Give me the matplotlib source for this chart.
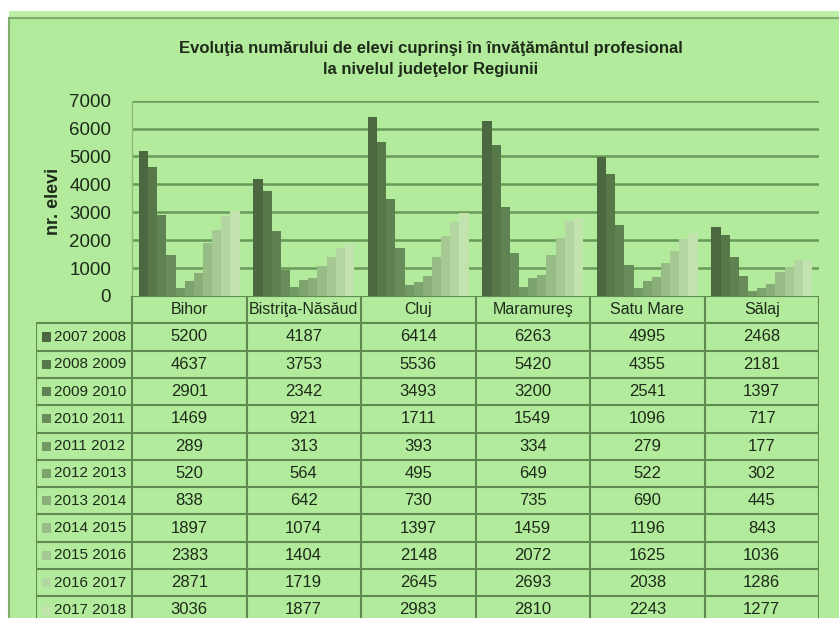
"""Evolutia numarului de elevi in invatamantul profesional - bar chart with data table."""

import matplotlib.pyplot as plt
from matplotlib import font_manager
from matplotlib.patches import Rectangle

counties = ["Bihor", "Bistriţa-Năsăud", "Cluj", "Maramureş", "Satu Mare", "Sălaj"]
years = [
    "2007 2008", "2008 2009", "2009 2010", "2010 2011", "2011 2012", "2012 2013",
    "2013 2014", "2014 2015", "2015 2016", "2016 2017", "2017 2018",
]
y_2007 = [5200, 4187, 6414, 6263, 4995, 2468]
y_2008 = [4637, 3753, 5536, 5420, 4355, 2181]
y_2009 = [2901, 2342, 3493, 3200, 2541, 1397]
y_2010 = [1469, 921, 1711, 1549, 1096, 717]
y_2011 = [289, 313, 393, 334, 279, 177]
y_2012 = [520, 564, 495, 649, 522, 302]
y_2013 = [838, 642, 730, 735, 690, 445]
y_2014 = [1897, 1074, 1397, 1459, 1196, 843]
y_2015 = [2383, 1404, 2148, 2072, 1625, 1036]
y_2016 = [2871, 1719, 2645, 2693, 2038, 1286]
y_2017 = [3036, 1877, 2983, 2810, 2243, 1277]
series = [y_2007, y_2008, y_2009, y_2010, y_2011, y_2012,
          y_2013, y_2014, y_2015, y_2016, y_2017]
y_ticks = [0, 1000, 2000, 3000, 4000, 5000, 6000, 7000]

colors = ["#4b6841", "#577949", "#5f8253", "#688c5a", "#729864", "#7ea46e",
          "#89ae78", "#98bc86", "#a6c994", "#b4d6a2", "#c2e2ae"]
BG = "#b2eb9b"
GRID = "#6a995a"
LINE = "#5f8b51"
TXT = "#1e2a1a"

installed = {f.name for f in font_manager.fontManager.ttflist}
FONT = "Liberation Sans Narrow" if "Liberation Sans Narrow" in installed else "Liberation Sans"
plt.rcParams["font.family"] = [FONT, "DejaVu Sans"]

W, H = 839, 618
fig = plt.figure(figsize=(W / 100, H / 100), dpi=100, facecolor="white")

# green frame, kept behind the axes
fig.patches.append(Rectangle((9 / W, 0), 1, 1 - 11 / H, transform=fig.transFigure,
                             facecolor="#bdf0a6", edgecolor="none", zorder=-2))
fig.patches.append(Rectangle((9 / W, -0.1), 1, 1.1 - 18 / H, transform=fig.transFigure,
                             facecolor=BG, edgecolor="#7fae6c", linewidth=1.5, zorder=-1))

fig.text(431 / W, 1 - 59 / H,
         "Evoluţia numărului de elevi cuprinşi în învăţământul profesional\n"
         "la nivelul judeţelor Regiunii",
         ha="center", va="center", fontsize=12, fontweight="bold",
         color=TXT, linespacing=1.5)

# bar chart
ax = fig.add_axes([132 / W, 1 - 296 / H, (819 - 132) / W, (296 - 100.7) / H])
ax.set_facecolor("none")
n = len(series)
bw = 0.88 / n
for i, vals in enumerate(series):
    xs = [g - 0.44 + bw * (i + 0.5) for g in range(len(counties))]
    ax.bar(xs, vals, width=bw, color=colors[i], linewidth=0, zorder=3)
ax.set_xlim(-0.5, len(counties) - 0.5)
ax.set_ylim(0, 7000)
ax.set_yticks(y_ticks)
ax.set_yticklabels([str(t) for t in y_ticks], fontsize=13.5, color=TXT)
ax.set_xticks([])
ax.tick_params(axis="y", length=0, pad=15)
for t in y_ticks[1:]:
    ax.axhline(t, color=GRID, linewidth=1.8, zorder=1)
for s in ["top", "right", "bottom"]:
    ax.spines[s].set_visible(False)
ax.spines["left"].set_color("#8fbb7d")
ax.spines["left"].set_linewidth(1.0)
fig.text(53 / W, 1 - 201 / H, "nr. elevi", rotation=90, ha="center", va="center",
         fontsize=13, fontweight="bold", color=TXT)

# data table
row_h = 27.3
col_w = 114.5
left_w = 96 / col_w
tab = fig.add_axes([36 / W, 0, (819 - 36) / W, (618 - 296) / H])
tab.set_xlim(-0.5 - left_w, len(counties) - 0.5)
n_rows = (618 - 296) / row_h
tab.set_ylim(n_rows, 0)
tab.axis("off")
x0 = -0.5 - left_w
tab.hlines(0, -0.5, len(counties) - 0.5, color=LINE, linewidth=1.5)
for r in range(1, n + 1):
    tab.hlines(r, x0, len(counties) - 0.5, color=LINE, linewidth=1.5)
for c in range(len(counties) + 1):
    tab.vlines(c - 0.5, 0, n_rows, color=LINE, linewidth=1.5)
tab.vlines(x0, 1, n_rows, color=LINE, linewidth=1.5)

for c, name in enumerate(counties):
    tab.text(c, 0.5, name, ha="center", va="center", fontsize=11.5, color=TXT)
px = 1 / col_w
for r, (yr, vals) in enumerate(zip(years, series)):
    yc = r + 1.5
    tab.add_patch(Rectangle((x0 + 6 * px, yc - 0.17), 9 * px, 0.34,
                            facecolor=colors[r], edgecolor="none"))
    tab.text(x0 + 18 * px, yc, yr, ha="left", va="center", fontsize=11, color=TXT)
    for c, v in enumerate(vals):
        tab.text(c, yc, str(v), ha="center", va="center", fontsize=12, color=TXT)

fig.savefig("out.png", dpi=100, facecolor="white")
